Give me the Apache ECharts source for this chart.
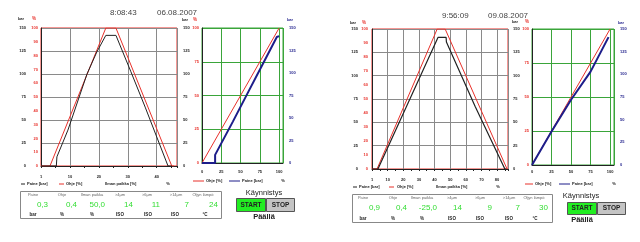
<!DOCTYPE html>
<html><head><meta charset="utf-8">
<script src="https://cdn.jsdelivr.net/npm/echarts@6/dist/echarts.min.js"></script>
<style>html,body{margin:0;padding:0;background:#fff}#c{width:640px;height:242px}</style>
</head><body><div id="c"></div>
<script>
// ---------- data ----------
const p1Time = '8:08:43', p1Date = '06.08.2007';
const p2Time = '9:56:09', p2Date = '09.08.2007';

// left charts: x = run position, Ohje in %, Paine in bar
const p1Ohje  = [[0,0],[3.1,0],[22.4,100],[25.9,100],[45.2,0],[46,0]];
const p1Paine = [[0,0],[5.3,0],[5.5,10],[9.3,39],[15.9,100],[19.3,124],[22.4,142],[25.9,142],[26.2,140],[31,103],[36,64],[43.9,0],[45.2,0]];
const p2Ohje  = [[0,0],[3.2,0],[41.7,100],[46.8,100],[86.4,0]];
const p2Paine = [[0,0],[3.8,0],[42.2,141],[47.4,141],[47.6,136],[66,67],[85,0],[86,0]];

// right charts: x = Ohje %, Ohje %, Paine bar
const p1RightOhje  = [[0,0],[100,100]];
const p1RightPaine = [[0,0],[14,0],[17,0],[17,9],[40,46],[60,79],[80,112],[97,140],[100,141]];
const p2RightOhje  = [[0,0],[100,100]];
const p2RightPaine = [[0,0],[25,37],[50,72],[75,103],[98,141]];

// table
const tableHeaders = ['Paine','Ohje','Ilman paikka','>4µm','>6µm','>14µm','Öljyn lämpö'];
const tableUnits   = ['bar','%','%','ISO','ISO','ISO','°C'];
const p1Values = ['0,3','0,4','50,0','14','11','7','24'];
const p2Values = ['0,9','0,4','-25,0','14','9','7','30'];

const legendLeft  = ['Paine [bar]','Ohje [%]','Ilman paikka [%]','%'];
const legendRight = ['Ohje [%]','Paine [bar]','%'];
const btnTitle = 'Käynnistys', btnStart = 'START', btnStop = 'STOP', btnState = 'Päällä';

// ---------- styling ----------
const RED = '#e8302a', GRID = '#8a8a8a', GREEN = '#3aa53a', NAVY = '#1d1d8a', DARK = '#222', VAL = '#33dd33';
const FONT = 'Liberation Sans';
function lbl(color, margin, extra) {
  return Object.assign({color: color, fontSize: 4, fontWeight: 'bold', fontFamily: FONT, margin: margin}, extra || {});
}

const grids = [
  {left: 41, top: 28, width: 136, height: 138, show: true, borderColor: RED, borderWidth: 1, backgroundColor: 'transparent'},
  {left: 202, top: 28, width: 81, height: 135, show: true, borderColor: GREEN, borderWidth: 1, backgroundColor: 'transparent'},
  {left: 372, top: 29, width: 136, height: 140, show: true, borderColor: RED, borderWidth: 1, backgroundColor: 'transparent'},
  {left: 532, top: 29, width: 82, height: 136, show: true, borderColor: GREEN, borderWidth: 1, backgroundColor: 'transparent'}
];

function leftX(gi, max) {
  return {type: 'value', gridIndex: gi, min: 0, max: max, interval: 10,
    axisLine: {show: true, onZero: false, lineStyle: {color: DARK, width: 1}},
    axisTick: {show: false},
    splitLine: {show: true, lineStyle: {color: GRID, width: 1}},
    axisLabel: lbl(DARK, 9, {showMaxLabel: false, formatter: v => v === 0 ? '1' : String(v)})};
}
function tickX(gi, max) {
  return {type: 'value', gridIndex: gi, min: 0, max: max, interval: 5, position: 'bottom',
    axisLine: {show: false}, axisTick: {show: true, length: 2, inside: false, lineStyle: {color: DARK}},
    splitLine: {show: false}, axisLabel: {show: false}};
}
function rightX(gi, margin) {
  return {type: 'value', gridIndex: gi, min: 0, max: 105, interval: 25,
    axisLine: {show: true, onZero: false, lineStyle: {color: DARK}},
    axisTick: {show: false},
    splitLine: {show: true, lineStyle: {color: GREEN}},
    axisLabel: lbl(DARK, margin, {showMaxLabel: false})};
}
function yAx(gi, pos, max, interval, color, margin, showLine, splitColor) {
  return {type: 'value', gridIndex: gi, position: pos, min: 0, max: max, interval: interval,
    axisLine: {show: showLine, onZero: false, lineStyle: {color: DARK}},
    axisTick: {show: false},
    splitLine: {show: !!splitColor, lineStyle: {color: splitColor || GRID}},
    axisLabel: lbl(color, margin)};
}

const xAxis = [leftX(0, 47), rightX(1, 7), leftX(2, 87), rightX(3, 5), tickX(0, 47), tickX(2, 87)];
const yAxis = [
  yAx(0, 'left', 150, 25, DARK, 15, true, GRID),   // 0 p1 bar left
  yAx(0, 'left', 100, 10, RED, 3, false, null),    // 1 p1 % left
  yAx(0, 'right', 150, 25, DARK, 6, false, null),  // 2 p1 bar right
  yAx(1, 'left', 100, 25, RED, 3, true, GREEN),    // 3 p1R %
  yAx(1, 'right', 150, 25, NAVY, 6, false, null),  // 4 p1R bar
  yAx(2, 'left', 150, 25, DARK, 14, true, GRID),   // 5 p2 bar left
  yAx(2, 'left', 100, 10, RED, 4, false, null),    // 6 p2 %
  yAx(2, 'right', 150, 25, DARK, 5, false, null),  // 7 p2 bar right
  yAx(3, 'left', 100, 25, RED, 3, true, GREEN),    // 8 p2R %
  yAx(3, 'right', 150, 25, NAVY, 6, false, null)   // 9 p2R bar
];

function line(data, xi, yi, color, w) {
  return {type: 'line', data: data, xAxisIndex: xi, yAxisIndex: yi, symbol: 'none',
    lineStyle: {color: color, width: w}, animation: false, silent: true, z: 5};
}
const series = [
  line(p1Ohje, 0, 1, RED, 1),
  line(p1Paine, 0, 0, DARK, 1),
  line(p1RightOhje, 1, 3, RED, 1),
  line(p1RightPaine, 1, 4, NAVY, 2),
  line(p2Ohje, 2, 6, RED, 1),
  line(p2Paine, 2, 5, DARK, 1.2),
  line(p2RightOhje, 3, 8, RED, 1),
  line(p2RightPaine, 3, 9, NAVY, 2)
];

// ---------- graphic texts ----------
const g = [];
function txt(t, x, y, size, color, align, weight) {
  g.push({type: 'text', x: x, y: y, silent: true, z: 10,
    style: {text: t, fill: color, align: align || 'left', verticalAlign: 'middle',
      font: (weight || 'normal') + ' ' + size + 'px "' + FONT + '"'}});
}
function seg(x1, x2, y, color, w) {
  g.push({type: 'line', silent: true, z: 10, shape: {x1: x1, y1: y, x2: x2, y2: y}, style: {stroke: color, lineWidth: w || 1}});
}
function rect(x, y, w, h, fill, stroke) {
  g.push({type: 'rect', silent: true, z: 9, shape: {x: x, y: y, width: w, height: h}, style: {fill: fill, stroke: stroke, lineWidth: 1}});
}

// panel 1
txt(p1Time, 110, 13, 8, '#444');
txt(p1Date, 157, 13, 8, '#444');
txt('bar', 21, 19, 4, DARK, 'center', 'bold');
txt('%', 34, 19, 4.5, RED, 'center', 'bold');
txt('bar', 185, 20, 4, DARK, 'center', 'bold');
txt('%', 195, 20, 4.5, RED, 'center', 'bold');
txt('bar', 290, 20, 4, NAVY, 'center', 'bold');
seg(21, 25, 184, DARK); txt(legendLeft[0], 27, 184, 4, DARK, 'left', 'bold');
seg(59, 64, 184, RED);  txt(legendLeft[1], 66, 184, 4, DARK, 'left', 'bold');
txt(legendLeft[2], 105, 184, 4, DARK, 'left', 'bold');
txt(legendLeft[3], 168, 184, 4, DARK, 'center', 'bold');
seg(193, 204, 181, RED); txt(legendRight[0], 206, 181, 4, DARK, 'left', 'bold');
seg(229, 240, 181, NAVY); txt(legendRight[1], 242, 181, 4, DARK, 'left', 'bold');
txt(legendRight[2], 283, 181, 4, DARK, 'center', 'bold');

rect(20.5, 191.5, 201, 27, '#fff', '#888');
const p1H = [33, 62, 92, 120, 147, 176, 203];
const p1V = [48, 77, 105, 133, 160, 189, 218];
const p1U = [33, 62, 92, 120, 148, 175, 205];
for (let i = 0; i < 7; i++) {
  txt(tableHeaders[i], p1H[i], 194.5, 4, '#666', 'center');
  txt(p1Values[i], p1V[i], 204.5, 8, VAL, 'right');
  txt(tableUnits[i], p1U[i], 215, 4.5, DARK, 'center', 'bold');
}
txt(btnTitle, 264, 193, 7.5, DARK, 'center');
rect(236.5, 198.5, 29, 13, '#22ee22', '#555');
rect(266.5, 198.5, 28, 13, '#c4c4c4', '#555');
txt(btnStart, 251, 205, 6.5, DARK, 'center', 'bold');
txt(btnStop, 280.5, 205, 6.5, DARK, 'center', 'bold');
txt(btnState, 264, 217, 7.5, DARK, 'center', 'bold');

// panel 2
txt(p2Time, 442, 16, 8, '#444');
txt(p2Date, 488, 16, 8, '#444');
txt('bar', 353, 23, 4, DARK, 'center', 'bold');
txt('%', 364, 23, 4.5, RED, 'center', 'bold');
txt('bar', 515, 22, 4, DARK, 'center', 'bold');
txt('%', 527, 22, 4.5, RED, 'center', 'bold');
txt('bar', 621, 23, 4, NAVY, 'center', 'bold');
seg(353, 357, 187, DARK); txt(legendLeft[0], 359, 187, 4, DARK, 'left', 'bold');
seg(389, 394, 187, RED);  txt(legendLeft[1], 397, 187, 4, DARK, 'left', 'bold');
txt(legendLeft[2], 436, 187, 4, DARK, 'left', 'bold');
txt(legendLeft[3], 498, 187, 4, DARK, 'center', 'bold');
seg(525, 533, 184, RED); txt(legendRight[0], 535, 184, 4, DARK, 'left', 'bold');
seg(559, 570, 184, NAVY); txt(legendRight[1], 572, 184, 4, DARK, 'left', 'bold');
txt(legendRight[2], 614, 184, 4, DARK, 'center', 'bold');

rect(352.5, 194.5, 200, 28, '#fff', '#888');
const p2H = [363, 393, 422, 452, 480, 509, 534];
const p2V = [380, 407, 437, 462, 492, 520, 548];
const p2U = [363, 393, 422, 452, 480, 509, 535];
for (let i = 0; i < 7; i++) {
  txt(tableHeaders[i], p2H[i], 197.5, 4, '#666', 'center');
  txt(p2Values[i], p2V[i], 207.5, 8, VAL, 'right');
  txt(tableUnits[i], p2U[i], 218.5, 4.5, DARK, 'center', 'bold');
}
txt(btnTitle, 581, 196, 7.5, DARK, 'center');
rect(567.5, 202.5, 29, 12, '#22ee22', '#555');
rect(597.5, 202.5, 28, 12, '#c4c4c4', '#555');
txt(btnStart, 582, 208.5, 6.5, DARK, 'center', 'bold');
txt(btnStop, 611.5, 208.5, 6.5, DARK, 'center', 'bold');
txt(btnState, 582, 219.5, 7.5, DARK, 'center', 'bold');

const chart = echarts.init(document.getElementById('c'), null, {renderer: 'canvas'});
chart.setOption({
  animation: false,
  backgroundColor: '#fff',
  grid: grids,
  xAxis: xAxis,
  yAxis: yAxis,
  series: series,
  graphic: g
});
</script>
</body></html>
